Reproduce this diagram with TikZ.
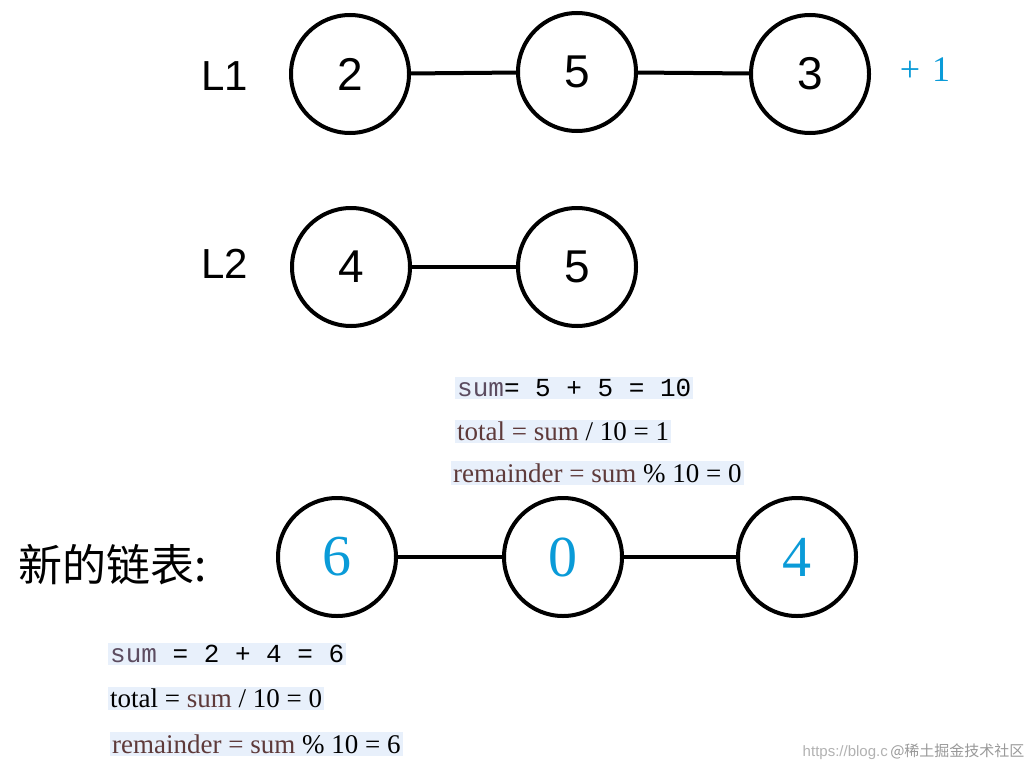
\documentclass[tikz,border=0pt]{standalone}
\usepackage{fontspec}
\setmainfont{Liberation Serif}
\setsansfont{Liberation Sans}
\setmonofont{Liberation Mono}
\newfontfamily\cjk{Noto Sans CJK SC}
\begin{document}
\begin{tikzpicture}[x=1pt,y=-1pt,
  nd/.style={circle,draw=black,line width=4pt,minimum size=118pt,inner sep=0pt,font=\sffamily\fontsize{46}{46}\selectfont},
  ln/.style={line width=4pt},
  bl/.style={font=\fontsize{58}{58}\selectfont},
  cb/.style={fill=cbg,inner sep=2pt,anchor=west,font=\fontsize{27}{28}\selectfont},
  lab/.style={font=\sffamily\fontsize{42}{42}\selectfont}]
\definecolor{bt}{HTML}{0A9BD8}
\definecolor{br}{HTML}{5E3A3A}
\definecolor{gp}{HTML}{5C4C60}
\definecolor{cbg}{HTML}{E8F0FB}
\useasboundingbox (0,0) rectangle (1032,771);
\fill[white] (0,0) rectangle (1032,771);
\node[lab] (l1) at (225,76) {L1};
\node[lab] (l2) at (225,264) {L2};
\node[nd] (a) at (350,74) {2};
\node[nd] (b) at (577,72) {5};
\node[nd] (c) at (810,74) {3};
\node[text=bt,font=\fontsize{36}{36}\selectfont] (p) at (925,70) {+\,\,1};
\node[nd] (d) at (351,267) {4};
\node[nd] (e) at (577,267) {5};
\draw[ln] (a) -- (b); \draw[ln] (b) -- (c); \draw[ln] (d) -- (e);
\node[cb,font=\ttfamily\fontsize{26}{27}\selectfont] (s1) at (455,388) {\textcolor{gp}{sum}= 5 + 5 = 10};
\node[cb] (t1) at (455,431) {\textcolor{br}{total = sum} / 10 = 1};
\node[cb] (r1) at (451,473) {\textcolor{br}{remainder = sum} \% 10 = 0};
\node[font=\cjk\fontsize{44}{44}\selectfont,anchor=west] (xin) at (15,565) {新的链表:};
\node[nd,bl,text=bt] (f) at (337,557) {6};
\node[nd,bl,text=bt] (g) at (563,557) {0};
\node[nd,bl,text=bt] (h) at (797,557) {4};
\draw[ln] (f) -- (g); \draw[ln] (g) -- (h);
\node[cb,font=\ttfamily\fontsize{26}{27}\selectfont] (s2) at (108,654) {\textcolor{gp}{sum} = 2 + 4 = 6};
\node[cb] (t2) at (108,698) {total = \textcolor{br}{sum} / 10 = 0};
\node[cb] (r2) at (110,744) {\textcolor{br}{remainder = sum} \% 10 = 6};
\node[anchor=east,text=gray!60,font=\sffamily\fontsize{15}{15}\selectfont] (wm) at (1028,752) {https://blog.c\,{\cjk\textcolor{gray!80}{@稀土掘金技术社区}}};
\end{tikzpicture}
\end{document}
